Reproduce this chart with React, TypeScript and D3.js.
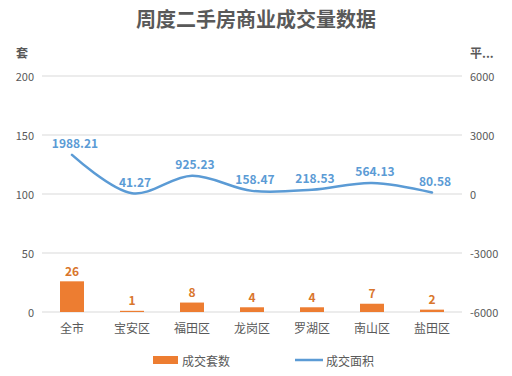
import React from "react";
import * as d3 from "d3";

const categories = ["全市", "宝安区", "福田区", "龙岗区", "罗湖区", "南山区", "盐田区"];
const units = [26, 1, 8, 4, 4, 7, 2];
const areas = [1988.21, 41.27, 925.23, 158.47, 218.53, 564.13, 80.58];
const leftTicks = [0, 50, 100, 150, 200];
const rightTicks = [-6000, -3000, 0, 3000, 6000];

const W = 512, H = 376;
const M = { left: 42, right: 462, top: 76, bottom: 312 };
const FONT = "'Noto Sans CJK SC', 'Noto Sans', sans-serif";

export default function App() {
  const x = d3.scaleBand<string>().domain(categories).range([M.left, M.right]).paddingInner(0).paddingOuter(0);
  const yL = d3.scaleLinear().domain([0, 200]).range([M.bottom, M.top]);
  const yR = d3.scaleLinear().domain([-6000, 6000]).range([M.bottom, M.top]);
  const barW = 24;
  const cx = (c: string) => (x(c) ?? 0) + x.bandwidth() / 2;
  const line = d3
    .line<number>()
    .x((_, i) => cx(categories[i]))
    .y((d) => yR(d))
    .curve(d3.curveCatmullRom.alpha(0.5));

  return (
    <svg width={W} height={H} style={{ position: "absolute", left: 0, top: 0, background: "#fff" }} fontFamily={FONT}>
      <text x={256} y={27} textAnchor="middle" fontSize={20} fontWeight="bold" fill="#595959">
        周度二手房商业成交量数据
      </text>
      <text x={22} y={58} textAnchor="middle" fontSize={12} fontWeight="bold" fill="#595959">套</text>
      <text x={470} y={58} textAnchor="start" fontSize={12} fontWeight="bold" fill="#595959">平...</text>
      {leftTicks.map((t) => (
        <g key={"l" + t}>
          <line x1={M.left} x2={M.right} y1={yL(t)} y2={yL(t)} stroke="#D9D9D9" strokeWidth={1} />
          <text x={34} y={yL(t)} textAnchor="end" dominantBaseline="central" fontSize={11} fill="#595959">{t}</text>
        </g>
      ))}
      {rightTicks.map((t) => (
        <text key={"r" + t} x={470} y={yR(t)} textAnchor="start" dominantBaseline="central" fontSize={11} fill="#595959">{t}</text>
      ))}
      {categories.map((c, i) => (
        <g key={c}>
          <rect x={cx(c) - barW / 2} y={yL(units[i])} width={barW} height={yL(0) - yL(units[i])} fill="#ED7D31" />
          <text x={cx(c)} y={yL(units[i]) - 11} textAnchor="middle" dominantBaseline="central" fontSize={12} fontWeight="bold" fill="#D9762C">{units[i]}</text>
          <text x={cx(c)} y={327} textAnchor="middle" dominantBaseline="central" fontSize={12} fill="#595959">{c}</text>
        </g>
      ))}
      <path d={line(areas) ?? ""} fill="none" stroke="#5B9BD5" strokeWidth={2.5} strokeLinecap="round" />
      {categories.map((c, i) => (
        <text key={"a" + c} x={cx(c) + 3} y={yR(areas[i]) - 12} textAnchor="middle" dominantBaseline="central" fontSize={12} fontWeight="bold" fill="#5B9BD5">{areas[i].toFixed(2)}</text>
      ))}
      <rect x={153} y={356} width={25} height={8} fill="#ED7D31" />
      <text x={182} y={360} dominantBaseline="central" fontSize={12} fill="#595959">成交套数</text>
      <line x1={295} x2={323} y1={360} y2={360} stroke="#5B9BD5" strokeWidth={2.5} />
      <text x={326} y={360} dominantBaseline="central" fontSize={12} fill="#595959">成交面积</text>
    </svg>
  );
}
